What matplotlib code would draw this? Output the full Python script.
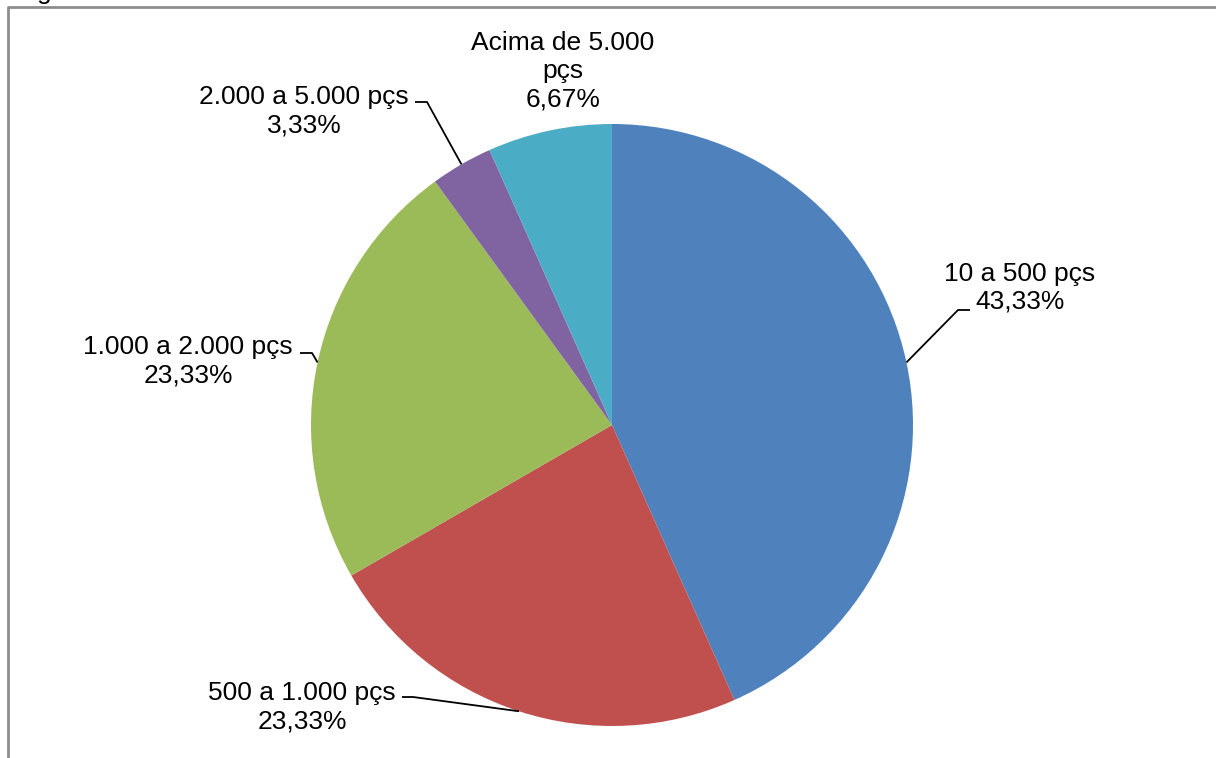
import numpy as np
import matplotlib.pyplot as plt

plt.rcParams['font.family'] = ['Liberation Sans', 'DejaVu Sans']

W, H = 1216, 758

# Slices, clockwise from 12 o'clock
categories = ['10 a 500 pçs', '500 a 1.000 pçs', '1.000 a 2.000 pçs',
              '2.000 a 5.000 pçs', 'Acima de 5.000\npçs']
shares = [43.33, 23.33, 23.33, 3.33, 6.67]
colors = ['#4F81BD', '#C0504D', '#9BBB59', '#8064A2', '#4BACC6']

# Label placement in pixel coords (x centre, baseline of last line, from top)
label_pos = [(1020, 309), (302, 728), (188, 382), (304, 132), (563, 106)]
# Leader line: start x, elbow x, y (None = no leader)
leaders = [(970, 958, 310), (402, 413, 697), (300, 312, 353),
           (415, 427, 102), None]

CX, CY, R = 612, 425, 301


def px(x, y):
    return x, H - y


fig = plt.figure(figsize=(W / 100, H / 100), dpi=100)
ax = fig.add_axes([0, 0, 1, 1])

wedges, _ = ax.pie(shares, colors=colors, startangle=90, counterclock=False,
                   center=px(CX, CY), radius=R, frame=True,
                   wedgeprops=dict(linewidth=0))
ax.set_xlim(0, W)
ax.set_ylim(0, H)
ax.set_axis_off()

for w, name, val, pos, ld in zip(wedges, categories, shares, label_pos, leaders):
    pct = f"{val:.2f}".replace('.', ',') + '%'
    ax.text(*px(*pos), f"{name}\n{pct}", ha='center', va='baseline',
            fontsize=19, linespacing=1.22, color='black')
    if ld is not None:
        # leader ends on the rim at the middle of the slice
        mid = np.deg2rad((w.theta1 + w.theta2) / 2)
        ex = w.center[0] + R * np.cos(mid)
        ey = w.center[1] + R * np.sin(mid)
        x0, x1, y = ld
        ax.plot([x0, x1, ex], [H - y, H - y, ey], color='black', lw=1.3,
                solid_capstyle='butt')

# Chart frame, partly outside the canvas
ax.plot([8, 8, W + 5], [-5, H - 7, H - 7], color='#8C8C8C', lw=2,
        clip_on=False)
# Descender of a title line cut off above
ax.text(37, H + 1, 'g', fontsize=19, va='baseline', ha='left', clip_on=False)

fig.savefig('out.png', dpi=100, facecolor='white')
